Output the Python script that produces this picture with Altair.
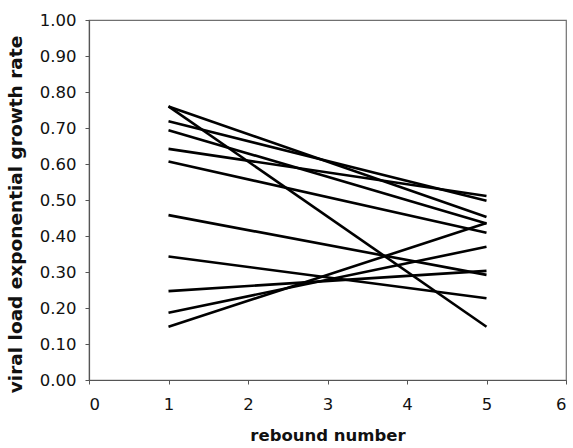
import altair as alt
import pandas as pd

rebound_start = [1, 1, 1, 1, 1, 1, 1, 1, 1, 1, 1]
rebound_end = [5, 5, 5, 5, 5, 5, 5, 5, 5, 5, 5]
rate_first = [0.760, 0.760, 0.719, 0.694, 0.642, 0.607, 0.458, 0.343, 0.247, 0.187, 0.148]
rate_last = [0.148, 0.453, 0.498, 0.435, 0.511, 0.409, 0.292, 0.227, 0.303, 0.370, 0.436]
patient = ["P1", "P2", "P3", "P4", "P5", "P6", "P7", "P8", "P9", "P10", "P11"]

rows = []
for p, x0, x1, a, b in zip(patient, rebound_start, rebound_end, rate_first, rate_last):
    rows.append({"patient": p, "rebound": x0, "rate": a})
    rows.append({"patient": p, "rebound": x1, "rate": b})
df = pd.DataFrame(rows)

FONT = "DejaVu Sans"

chart = (
    alt.Chart(df)
    .mark_line(color="black", strokeWidth=2.6)
    .encode(
        x=alt.X(
            "rebound:Q",
            scale=alt.Scale(domain=[0, 6], nice=False, zero=False),
            axis=alt.Axis(
                values=[0, 1, 2, 3, 4, 5, 6],
                format="d",
                grid=False,
                title="rebound number",
                titleFontSize=16.5,
                tickSize=4,
                labelPadding=12,
                titlePadding=15,
            ),
        ),
        y=alt.Y(
            "rate:Q",
            scale=alt.Scale(domain=[0, 1], nice=False),
            axis=alt.Axis(
                values=[0, 0.1, 0.2, 0.3, 0.4, 0.5, 0.6, 0.7, 0.8, 0.9, 1.0],
                format=".2f",
                grid=False,
                title="viral load exponential growth rate",
                titleFontSize=18.5,
                tickSize=4,
                labelPadding=9,
                titleX=-74,
                titleY=194,
                titleAngle=270,
                titleAlign="center",
                titleBaseline="middle",
            ),
        ),
        detail="patient:N",
    )
    .properties(
        width=477,
        height=360,
        autosize=alt.AutoSizeParams(type="none"),
        padding={"left": 89, "top": 20, "right": 7, "bottom": 68},
    )
    .configure_view(stroke="#707070", strokeWidth=1.2)
    .configure_axis(
        labelFont=FONT,
        titleFont=FONT,
        labelFontSize=16.5,
        titleFontWeight="bold",
        labelColor="#111",
        titleColor="#111",
        domainColor="#555",
        tickColor="#555",
        domainWidth=1.2,
    )
)

chart.save("out.html", embed_options={"renderer": "svg", "actions": False})
